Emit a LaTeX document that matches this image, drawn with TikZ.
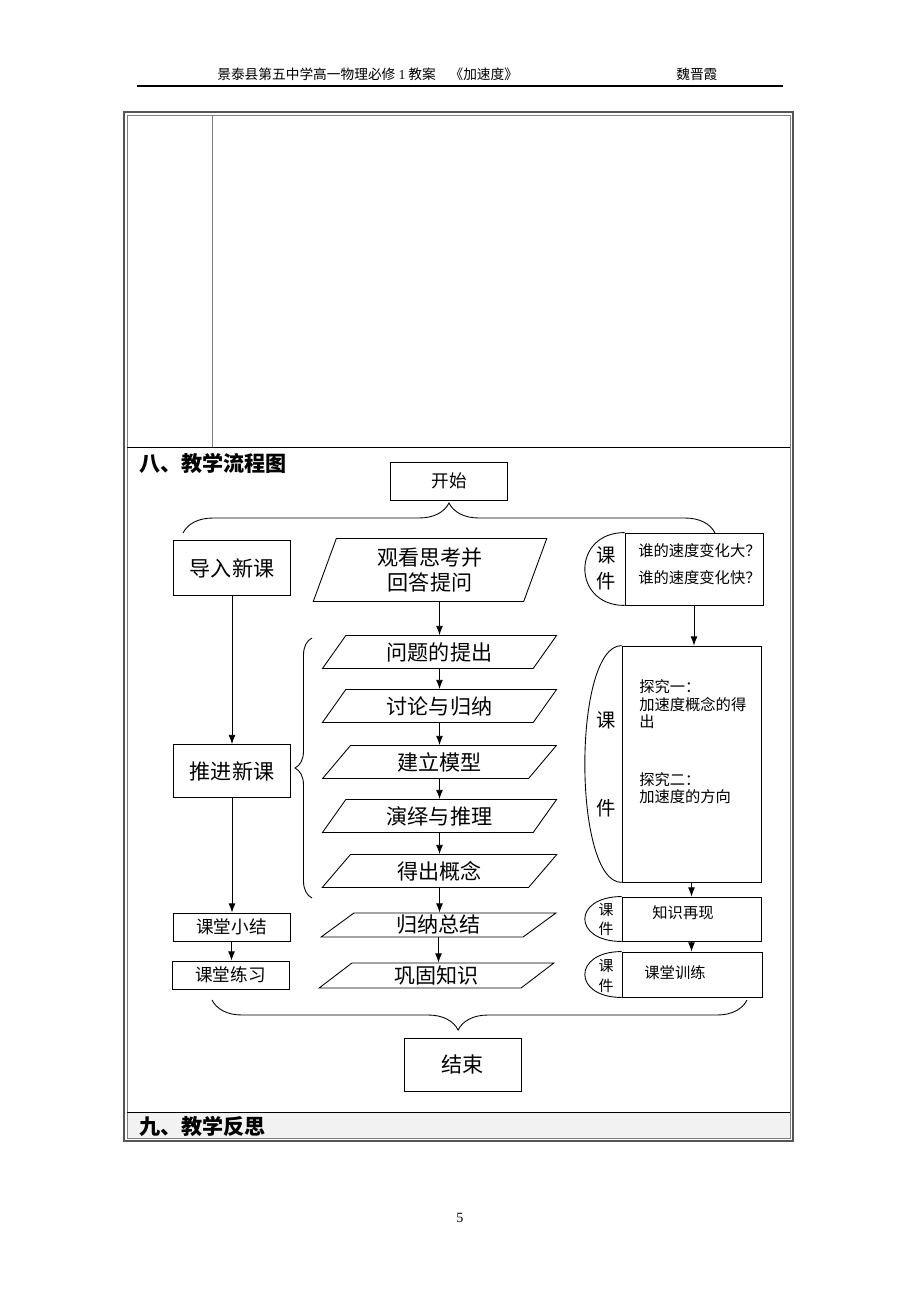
\documentclass[tikz,border=0pt]{standalone}
\usepackage{fontspec}
\setmainfont{Noto Sans CJK SC}
\newfontfamily\latin{Liberation Serif}
\usepackage{tikz}
\usetikzlibrary{positioning}
\usetikzlibrary{shapes.geometric}
\usetikzlibrary{decorations.pathreplacing}
\usetikzlibrary{arrows.meta}
\definecolor{mygray}{RGB}{242, 242, 242}
\definecolor{myframe}{RGB}{85, 85, 85}

\begin{document}
\begin{tikzpicture}[
            x=0.02cm, y=-0.02cm,
            line width=0.5pt,
            box/.style={
                rectangle,
                draw,
                inner sep=0pt,
                minimum width=2.34cm,
                minimum height=#1
            },
            para/.style={
                trapezium,
                trapezium stretches=true,
                trapezium left angle=56,
                trapezium right angle=124,
                draw,
                inner sep=0pt,
                minimum width=4.7cm,
                minimum height=#1,
                font=\fontsize{12}{14.7}\selectfont
            },
            kj/.style={
                rectangle,
                draw,
                inner sep=0pt,
                minimum width=2.78cm,
                minimum height=#1
            },
            big/.style={font=\fontsize{12}{14.7}\selectfont},
            small/.style={font=\fontsize{10}{12}\selectfont},
            tiny/.style={font=\fontsize{8.7}{10}\selectfont},
            brace/.style={decorate, decoration={brace, amplitude=#1}}
        ]
            \useasboundingbox (0,0) rectangle (920,1302);

            % Page frame
            \node[anchor=west, font=\fontsize{7.8}{9}\selectfont] (header) at (211,74) {景泰县第五中学高一物理必修 {\latin 1} 教案\quad《加速度》};
            \node[anchor=west, font=\fontsize{7.8}{9}\selectfont] (author) at (670,74) {魏晋霞};
            \draw[line width=0.8pt] (137,86) -- (783,86);
            \fill[mygray] (127,1112) rectangle (790,1138);
            \draw[line width=1.1pt, myframe] (124,112) rectangle (793,1141);
            \draw[gray] (127,115) rectangle (790,1138);
            \draw[gray] (212,115) -- (212,447);
            \draw (127,447) -- (790,447);
            \draw (127,1112) -- (790,1112);
            \node[anchor=west, font=\fontsize{12}{14}\selectfont\bfseries] (head8) at (133,463) {八、教学流程图};
            \node[anchor=west, font=\fontsize{12}{14}\selectfont\bfseries] (head9) at (133,1126) {九、教学反思};
            \node[font=\latin\fontsize{8}{9}\selectfont] (page) at (460,1218) {5};

            % Nodes
            \node[box=0.76cm, small] (start) at (449,481) {开始};

            \node[box=1.1cm, big] (intro) at (232,568) {导入新课};
            \node[para=1.26cm, trapezium left angle=74, trapezium right angle=106,
                  align=center] (watch) at (430,570) {观看思考并\\回答提问};
            \node[kj=1.44cm, minimum width=2.76cm] (kj1) at (694,569) {};
            \node[anchor=west, tiny, align=left, font=\fontsize{8.7}{15.3}\selectfont] (kj1txt) at (632,564) {谁的速度变化大？\\谁的速度变化快？};
            \node[align=center, font=\fontsize{11}{14.7}\selectfont] (kj1tag) at (606,568) {课\\件};

            \node[box=1.06cm, big] (advance) at (232,771) {推进新课};
            \node[para=0.66cm] (ask) at (439.5,652) {问题的提出};
            \node[para=0.66cm] (discuss) at (439.5,706) {讨论与归纳};
            \node[para=0.66cm] (model) at (439.5,762) {建立模型};
            \node[para=0.66cm] (deduce) at (439.5,816) {演绎与推理};
            \node[para=0.66cm] (concept) at (439.5,871) {得出概念};

            \node[kj=4.72cm] (kj2) at (691.5,764) {};
            \node[anchor=west, tiny, align=left] (probe1) at (633,704.5) {探究一：\\加速度概念的得\\出};
            \node[anchor=west, tiny, align=left] (probe2) at (633,788) {探究二：\\加速度的方向};
            \node[font=\fontsize{11}{13}\selectfont] (kj2a) at (606,720) {课};
            \node[font=\fontsize{11}{13}\selectfont] (kj2b) at (606,808) {件};

            \node[box=0.56cm, small] (summary) at (231.5,927) {课堂小结};
            \node[box=0.56cm, small] (practice) at (230.5,975) {课堂练习};
            \node[para=0.48cm, trapezium left angle=50, trapezium right angle=130] (induce) at (438.5,925) {归纳总结};
            \node[para=0.5cm, trapezium left angle=50, trapezium right angle=130] (consolidate) at (436.5,975.5) {巩固知识};

            \node[kj=0.88cm] (kj3) at (691.5,919) {};
            \node[tiny] (kj3txt) at (683,913) {知识再现};
            \node[align=center, font=\fontsize{8.5}{11}\selectfont] (kj3tag) at (606,919.5) {课\\件};
            \node[kj=0.9cm, minimum width=2.8cm] (kj4) at (692,974.5) {};
            \node[tiny] (kj4txt) at (675,973) {课堂训练};
            \node[align=center, font=\fontsize{8.5}{11}\selectfont] (kj4tag) at (606,976) {课\\件};

            \node[box=1.06cm, big] (finish) at (462.5,1064.5) {结束};

            % Half-round tags of the courseware boxes
            \draw (kj1.north west) .. controls +(-53,0) and +(-53,0) .. (kj1.south west);
            \draw (kj2.north west) .. controls +(-49,0) and +(-49,0) .. (kj2.south west);
            \draw (kj3.north west) .. controls +(-49,0) and +(-49,0) .. (kj3.south west);
            \draw (kj4.north west) .. controls +(-49,0) and +(-49,0) .. (kj4.south west);

            % Braces
            \coordinate (topL) at (183,533);
            \coordinate (topR) at (715,533);
            \coordinate (midT) at (312,638);
            \coordinate (midB) at (312,898);
            \coordinate (botL) at (212,1000);
            \coordinate (botR) at (747,1000);
            \draw[brace=0.6cm] (topL) -- (topR);
            \draw[brace=0.34cm] (midB) -- (midT);
            \draw[brace=0.6cm, decoration={aspect=0.54}] (botR) -- (botL);

            % Arrows
            \draw[-Latex] (watch.south -| ask.north) -- (ask.north);
            \foreach \a/\b in {ask/discuss, discuss/model, model/deduce, deduce/concept, concept/induce, induce/consolidate}
                \draw[-Latex] (\a.center |- \a.south) -- (\a.center |- \b.north);
            \draw[-Latex] (intro.south) -- (intro.south |- advance.north);
            \draw[-Latex] (advance.south) -- (advance.south |- summary.north);
            \draw[-Latex] (summary.south) -- (summary.south |- practice.north);
            \draw[-Latex] (kj1.south) -- (kj1.south |- kj2.north);
            \draw[-Latex] (kj2.south) -- (kj2.south |- kj3.north);
            \draw[-Latex] (kj3.south) -- (kj3.south |- kj4.north);
        \end{tikzpicture}
\end{document}
